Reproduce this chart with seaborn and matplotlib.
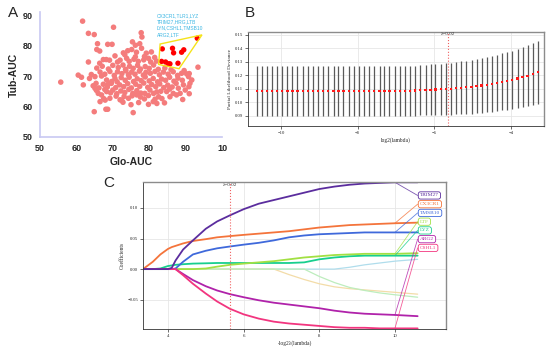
import numpy as np
import pandas as pd
import seaborn as sns
import matplotlib.pyplot as plt
from matplotlib.patches import Polygon

# ---------------- A: gene AUC, glomerulus vs tubule ----------------
other_genes = [
    (61.7, 88.0), (70.2, 86.0), (63.3, 84.0), (64.9, 83.6), (77.8, 84.2),
    (78.0, 82.8), (65.8, 80.6), (68.6, 80.4), (69.8, 80.4), (76.2, 80.1), (75.4, 81.2), (77.4, 80.6),
    (65.6, 78.7), (66.4, 78.2), (72.9, 77.6), (73.3, 77.0), (74.1, 78.3), (75.2, 78.7), (77.9, 79.1),
    (76.5, 77.8), (79.2, 77.5), (80.6, 77.9), (78.7, 76.4),
    (63.3, 74.6), (67.4, 75.4), (68.2, 75.4), (69.1, 75.2), (70.6, 76.6), (72.0, 75.2), (73.8, 75.8),
    (71.3, 74.6), (74.5, 74.8), (75.8, 75.5), (77.0, 74.8), (78.5, 75.3), (79.8, 75.8), (81.5, 76.1),
    (80.4, 74.6), (82.0, 74.9), (76.2, 76.3), (66.4, 74.2),
    (65.6, 72.6), (67.1, 73.2), (68.8, 72.3), (70.0, 73.5), (71.5, 72.8), (72.8, 73.6), (73.5, 72.2),
    (74.6, 73.2), (75.6, 72.5), (76.8, 73.5), (77.6, 72.3), (78.9, 73.1), (80.0, 72.5), (81.2, 73.6),
    (82.5, 72.2), (84.3, 72.6), (86.0, 72.1), (89.6, 71.8), (93.4, 72.9), (91.0, 70.8),
    (60.5, 70.3), (64.1, 70.5), (66.9, 70.0), (66.5, 71.3), (67.8, 70.6), (69.2, 71.5), (70.4, 70.2),
    (71.3, 71.4), (72.5, 70.8), (73.6, 71.7), (74.3, 70.4), (75.2, 71.3), (76.1, 70.6), (77.3, 71.6),
    (78.4, 70.3), (79.1, 71.2), (80.3, 70.9), (81.6, 71.5), (82.8, 70.4), (83.9, 71.3), (85.2, 70.6),
    (86.6, 71.4), (87.8, 70.2), (88.9, 70.9), (90.3, 70.7), (90.8, 69.8),
    (55.7, 68.0), (61.4, 69.6), (63.6, 69.2), (65.1, 69.8), (65.4, 67.6), (68.3, 68.7), (69.7, 68.2),
    (70.6, 69.2), (71.2, 68.1), (72.3, 69.5), (73.4, 68.6), (74.5, 69.6), (75.7, 68.2), (76.7, 69.1),
    (77.8, 68.5), (78.9, 69.7), (80.0, 68.4), (81.1, 69.2), (82.3, 68.1), (83.4, 69.0), (84.5, 68.6),
    (85.6, 69.6), (86.8, 68.3), (87.9, 69.3), (89.1, 68.6), (91.7, 68.7),
    (61.9, 67.1), (64.6, 66.8), (65.1, 66.0), (66.2, 66.1), (67.4, 67.3), (68.8, 67.4), (68.5, 66.4),
    (69.6, 67.6), (70.8, 66.2), (71.9, 67.1), (73.0, 66.5), (74.1, 67.5), (75.1, 66.1), (76.3, 67.3),
    (77.4, 66.6), (78.5, 67.7), (79.6, 66.3), (80.7, 67.2), (81.8, 66.5), (82.9, 67.4), (84.0, 66.2),
    (85.1, 67.0), (86.3, 66.4), (87.4, 67.6), (88.0, 66.0), (89.4, 67.1), (91.2, 67.6), (90.9, 66.5),
    (65.5, 65.3), (66.0, 64.3), (67.8, 65.6), (68.3, 64.9), (69.4, 64.5), (70.0, 65.4), (71.1, 64.2),
    (72.2, 65.1), (73.3, 64.6), (74.4, 65.6), (75.5, 64.3), (76.6, 65.2), (77.7, 64.4), (78.8, 64.3),
    (80.2, 65.4), (81.2, 64.3), (82.1, 64.8), (83.2, 65.0), (84.8, 64.9), (85.6, 65.7), (86.6, 64.3),
    (88.5, 64.3), (89.9, 65.4), (91.0, 64.2),
    (66.9, 63.8), (67.5, 62.6), (69.2, 62.7), (70.9, 63.4), (72.0, 62.2), (73.1, 63.3), (74.3, 62.7),
    (75.3, 63.5), (76.6, 63.8), (77.6, 63.1), (78.7, 62.5), (79.8, 63.6), (81.6, 62.4), (82.6, 63.2),
    (83.5, 62.6), (85.7, 63.2), (87.5, 63.8), (89.2, 62.3),
    (66.5, 61.6), (67.9, 62.1), (72.4, 62.1), (72.8, 61.4), (75.0, 60.6), (77.1, 61.3), (79.8, 60.7),
    (81.1, 61.6), (82.1, 61.0), (84.2, 61.2),
    (64.9, 58.3), (68.1, 59.1), (68.6, 59.1), (75.6, 58.0),
]
hub_glo = [83.6, 86.4, 86.7, 88.9, 89.5, 93.2, 83.4, 84.5, 85.3, 85.7, 87.9]
hub_tub = [78.9, 79.1, 77.6, 77.8, 78.6, 82.4, 74.8, 74.6, 74.0, 74.0, 74.2]
hub_names = ["CX3CR1", "TLR1", "LYZ", "TRIM27", "HRG", "LTB",
             "LYN", "CSHL1", "TMSB10", "ARG2", "LTF"]
hull_glo = [83.0, 94.5, 88.2, 82.6]
hull_tub = [80.5, 83.5, 72.4, 73.8]

# ---------------- B: cross-validation curve ----------------
log2_lambda = [-10.63, -10.50, -10.37, -10.23, -10.10, -9.97, -9.83, -9.70, -9.57, -9.43,
               -9.30, -9.17, -9.03, -8.90, -8.77, -8.63, -8.50, -8.37, -8.23, -8.10,
               -7.97, -7.83, -7.70, -7.57, -7.43, -7.30, -7.17, -7.03, -6.90, -6.77,
               -6.63, -6.50, -6.37, -6.23, -6.10, -5.97, -5.83, -5.70, -5.57, -5.43,
               -5.30, -5.17, -5.03, -4.90, -4.77, -4.63, -4.50, -4.37, -4.23, -4.10,
               -3.97, -3.83, -3.70, -3.57, -3.43, -3.30]
cvm = [0.1083, 0.1083, 0.1083, 0.1083, 0.1083, 0.1083, 0.1083, 0.1083, 0.1083, 0.1083,
       0.1083, 0.1083, 0.1083, 0.1083, 0.1083, 0.1083, 0.1083, 0.1083, 0.1083, 0.1083,
       0.1083, 0.1083, 0.1083, 0.1083, 0.1083, 0.1083, 0.1083, 0.1083, 0.1084, 0.1085,
       0.1086, 0.1087, 0.1089, 0.1091, 0.1093, 0.1095, 0.1097, 0.1099, 0.1101, 0.1104,
       0.1107, 0.1111, 0.1115, 0.1120, 0.1125, 0.1131, 0.1137, 0.1144, 0.1151, 0.1159,
       0.1167, 0.1176, 0.1186, 0.1197, 0.1209, 0.1222]
cvsd = [0.0182, 0.0182, 0.0182, 0.0182, 0.0182, 0.0182, 0.0182, 0.0182, 0.0182, 0.0182,
        0.0182, 0.0182, 0.0182, 0.0182, 0.0182, 0.0182, 0.0182, 0.0182, 0.0182, 0.0182,
        0.0182, 0.0182, 0.0182, 0.0182, 0.0182, 0.0182, 0.0182, 0.0182, 0.0182, 0.0183,
        0.0184, 0.0185, 0.0186, 0.0187, 0.0188, 0.0189, 0.0190, 0.0191, 0.0192, 0.0193,
        0.0195, 0.0196, 0.0198, 0.0200, 0.0202, 0.0204, 0.0206, 0.0208, 0.0211, 0.0213,
        0.0216, 0.0219, 0.0222, 0.0225, 0.0228, 0.0231]
lambda_min = 0.02

# ---------------- C: coefficient paths ----------------
neg_log2_lambda = [3.34, 3.6, 3.8, 4.0, 4.1, 4.2, 4.4, 4.66, 5.0, 5.3, 5.64, 6.0,
                   6.4, 6.8, 7.2, 7.6, 8.0, 8.4, 8.8, 9.2, 9.6, 10.0, 10.6]
trim27 = [0, 0, 0, 0, 0.002, 0.014, 0.032, 0.047, 0.066, 0.078, 0.088, 0.098,
          0.107, 0.113, 0.119, 0.125, 0.131, 0.135, 0.138, 0.140, 0.141, 0.142, 0.142]
cx3cr1 = [0, 0.012, 0.024, 0.033, 0.036, 0.038, 0.042, 0.046, 0.049, 0.052, 0.054, 0.056,
          0.058, 0.060, 0.062, 0.065, 0.068, 0.070, 0.072, 0.073, 0.074, 0.075, 0.076]
tmsb10 = [0, 0, 0, 0, 0, 0.001, 0.012, 0.024, 0.030, 0.034, 0.037, 0.040,
          0.043, 0.047, 0.052, 0.055, 0.057, 0.058, 0.059, 0.060, 0.060, 0.060, 0.060]
ltf = [0, 0, 0, 0, 0, 0, 0, 0, 0.001, 0.004, 0.007, 0.009,
       0.011, 0.013, 0.016, 0.019, 0.021, 0.023, 0.024, 0.025, 0.025, 0.025, 0.026]
lyz = [0, 0, 0.001, 0.005, 0.006, 0.007, 0.008, 0.009, 0.0095, 0.010, 0.010, 0.010,
       0.010, 0.010, 0.010, 0.011, 0.016, 0.019, 0.021, 0.022, 0.022, 0.022, 0.022]
arg2 = [0, 0, 0, 0, 0, 0, -0.008, -0.018, -0.028, -0.035, -0.041, -0.046,
        -0.051, -0.055, -0.058, -0.061, -0.064, -0.068, -0.071, -0.073, -0.074, -0.075, -0.077]
cshl1 = [0, 0, 0, 0, 0, 0, -0.010, -0.024, -0.040, -0.053, -0.065, -0.074,
         -0.081, -0.086, -0.089, -0.091, -0.093, -0.095, -0.096, -0.096, -0.097, -0.097, -0.097]
lyn = [0, 0, 0, 0, 0, 0, 0, 0, 0, 0, 0, 0,
       0, 0, 0, 0, 0, 0, 0.003, 0.007, 0.010, 0.013, 0.016]
ltb = [0, 0, 0, 0, 0, 0, 0, 0, 0, 0, 0, 0,
       0, 0, -0.009, -0.017, -0.024, -0.029, -0.032, -0.034, -0.036, -0.038, -0.041]
hrg = [0, 0, 0, 0, 0, 0, 0, 0, 0, 0, 0, 0,
       0, 0, 0, 0, -0.012, -0.022, -0.030, -0.035, -0.039, -0.042, -0.046]

path_names = ["LYN", "LTB", "HRG", "LYZ", "LTF", "TMSB10", "CX3CR1", "ARG2", "CSHL1", "TRIM27"]
path_values = [lyn, ltb, hrg, lyz, ltf, tmsb10, cx3cr1, arg2, cshl1, trim27]
labelled = ["TRIM27", "CX3CR1", "TMSB10", "LTF", "LYZ", "ARG2", "CSHL1"]
palette = {"TRIM27": "#5B2D9E", "CX3CR1": "#F4743B", "TMSB10": "#3F69DB", "LTF": "#A2E043",
           "LYZ": "#17CF8E", "ARG2": "#B022AA", "CSHL1": "#F2357F",
           "LYN": "#B0DDEC", "LTB": "#F3DCA8", "HRG": "#BDEDBD"}

sns.set_style("white")
plt.rcParams["font.family"] = ["Liberation Sans", "DejaVu Sans"]

fig = plt.figure(figsize=(5.5, 3.47), dpi=100)

# ---- A ----
axA = fig.add_axes([40 / 550, 1 - 137 / 347, 182 / 550, 125 / 347])
dfA = pd.DataFrame(other_genes, columns=["glo", "tub"])
sns.scatterplot(data=dfA, x="glo", y="tub", color="#F47C7C", s=16, edgecolor="none", ax=axA)
dfH = pd.DataFrame({"glo": hub_glo, "tub": hub_tub, "gene": hub_names})
sns.scatterplot(data=dfH, x="glo", y="tub", color="#FF0000", s=15, edgecolor="none", ax=axA)
axA.add_patch(Polygon(list(zip(hull_glo, hull_tub)), closed=True, fill=False,
                      edgecolor="#F5E31A", lw=1.0))
axA.text(82.1, 90.6, "CX3CR1,TLR1,LYZ\nTRIM27,HRG,LTB\nLYN,CSHL1,TMSB10\nARG2,LTF",
         color="#3BB6E3", fontsize=3.5, va="top", ha="left", linespacing=1.3)
axA.set_xlim(50, 100)
axA.set_ylim(50, 91)
axA.set_xticks([50, 60, 70, 80, 90, 100])
axA.set_xticklabels(["50", "60", "70", "80", "90", "10"])
axA.set_yticks([50, 60, 70, 80, 90])
for s in ["top", "right"]:
    axA.spines[s].set_visible(False)
for s in ["left", "bottom"]:
    axA.spines[s].set_color("#C8C8F2")
    axA.spines[s].set_linewidth(1.2)
axA.tick_params(axis="both", direction="out", length=3, width=1, color="#C8C8F2",
                labelsize=6.5, pad=2)
for lab in axA.get_xticklabels() + axA.get_yticklabels():
    lab.set_fontweight("bold")
axA.set_xlabel("Glo-AUC", fontsize=7.5, fontweight="bold", labelpad=3)
axA.set_ylabel("Tub-AUC", fontsize=7.5, fontweight="bold", labelpad=3)

serif = ["Liberation Serif", "DejaVu Serif"]

# ---- B ----
axB = fig.add_axes([248 / 550, 1 - 126 / 347, 296 / 550, 94 / 347])
dfB = pd.DataFrame({"log2_lambda": log2_lambda, "cvm": cvm, "cvsd": cvsd})
axB.vlines(dfB["log2_lambda"], dfB["cvm"] - dfB["cvsd"], dfB["cvm"] + dfB["cvsd"],
           color="#5A5A5A", lw=0.9, zorder=2)
sns.scatterplot(data=dfB, x="log2_lambda", y="cvm", color="#FF1A1A", marker="s", s=2.5,
                edgecolor="none", ax=axB, zorder=3)
axB.axvline(np.log2(lambda_min), color="#F06060", ls=":", lw=0.8, zorder=4)
axB.text(np.log2(lambda_min), 0.1505, "λ=0.02", fontsize=3.6, family=serif,
         ha="center", va="center", color="#333333")
axB.set_xlim(-10.86, -3.14)
axB.set_ylim(0.0825, 0.152)
axB.set_xticks([-10, -8, -6, -4])
axB.set_xticklabels(["−10", "−8", "−6", "−4"])
axB.set_yticks([0.09, 0.10, 0.11, 0.12, 0.13, 0.14, 0.15])
axB.set_yticklabels(["0.09", "0.10", "0.11", "0.12", "0.13", "0.14", "0.15"])
axB.set_xlabel("log2(lambda)", fontsize=4.0, family=serif, labelpad=2)
axB.set_ylabel("Partial Likelihood Deviance", fontsize=3.8, family=serif, labelpad=2)

# ---- C ----
axC = fig.add_axes([143 / 550, 1 - 329 / 347, 303 / 550, 147 / 347])
dfC = pd.concat([pd.DataFrame({"x": neg_log2_lambda, "coef": v, "gene": n})
                 for n, v in zip(path_names, path_values)], ignore_index=True)
sizes = {n: (0.9 if n not in labelled else 1.3) for n in path_names}
sns.lineplot(data=dfC, x="x", y="coef", hue="gene", hue_order=path_names, palette=palette,
             size="gene", sizes=sizes, legend=False, estimator=None, ax=axC)
axC.axvline(-np.log2(lambda_min), color="#F06060", ls=":", lw=0.8)
axC.text(-np.log2(lambda_min), 0.1375, "λ=0.02", fontsize=3.6, family=serif,
         ha="center", va="center", color="#333333")
i10 = neg_log2_lambda.index(10.0)
coef_of = dict(zip(path_names, path_values))
for i, g in enumerate(labelled):
    ly = 0.1205 - i * 0.0143
    axC.plot([10.0, 10.6], [coef_of[g][i10], ly], color=palette[g], lw=0.6, alpha=0.8)
    axC.text(10.66, ly, g, color=palette[g], fontsize=3.9, family=serif, ha="left",
             va="center",
             bbox=dict(boxstyle="round,pad=0.3,rounding_size=0.4", fc="white",
                       ec=palette[g], lw=0.6))
axC.set_xlim(3.34, 11.35)
axC.set_ylim(-0.098, 0.1425)
axC.set_xticks([4, 6, 8, 10])
axC.set_yticks([-0.05, 0.0, 0.05, 0.10])
axC.set_yticklabels(["−0.05", "0.00", "0.05", "0.10"])
axC.set_xlabel("-log2λ(lambda)", fontsize=4.0, family=serif, labelpad=2)
axC.set_ylabel("Coefficients", fontsize=4.0, family=serif, labelpad=2)

for ax in (axB, axC):
    ax.grid(True, color="#E6E6E6", lw=0.6)
    ax.set_axisbelow(True)
    for s in ["top", "right"]:
        ax.spines[s].set_color("#8C8C8C")
        ax.spines[s].set_linewidth(1.0)
    for s in ["left", "bottom"]:
        ax.spines[s].set_color("#333333")
        ax.spines[s].set_linewidth(0.6)
    ax.tick_params(axis="both", direction="out", length=2, width=0.5, color="#333333",
                   labelsize=3.4, pad=1.5, left=True, bottom=True)
    for lab in ax.get_xticklabels() + ax.get_yticklabels():
        lab.set_family(serif)

# panel letters
fig.text(8 / 550, 1 - 13 / 347, "A", fontsize=11, va="center", ha="left")
fig.text(245 / 550, 1 - 13 / 347, "B", fontsize=11, va="center", ha="left")
fig.text(103 / 550, 1 - 183 / 347, "C", fontsize=11, va="center", ha="left")

fig.savefig("out.png", dpi=100)
